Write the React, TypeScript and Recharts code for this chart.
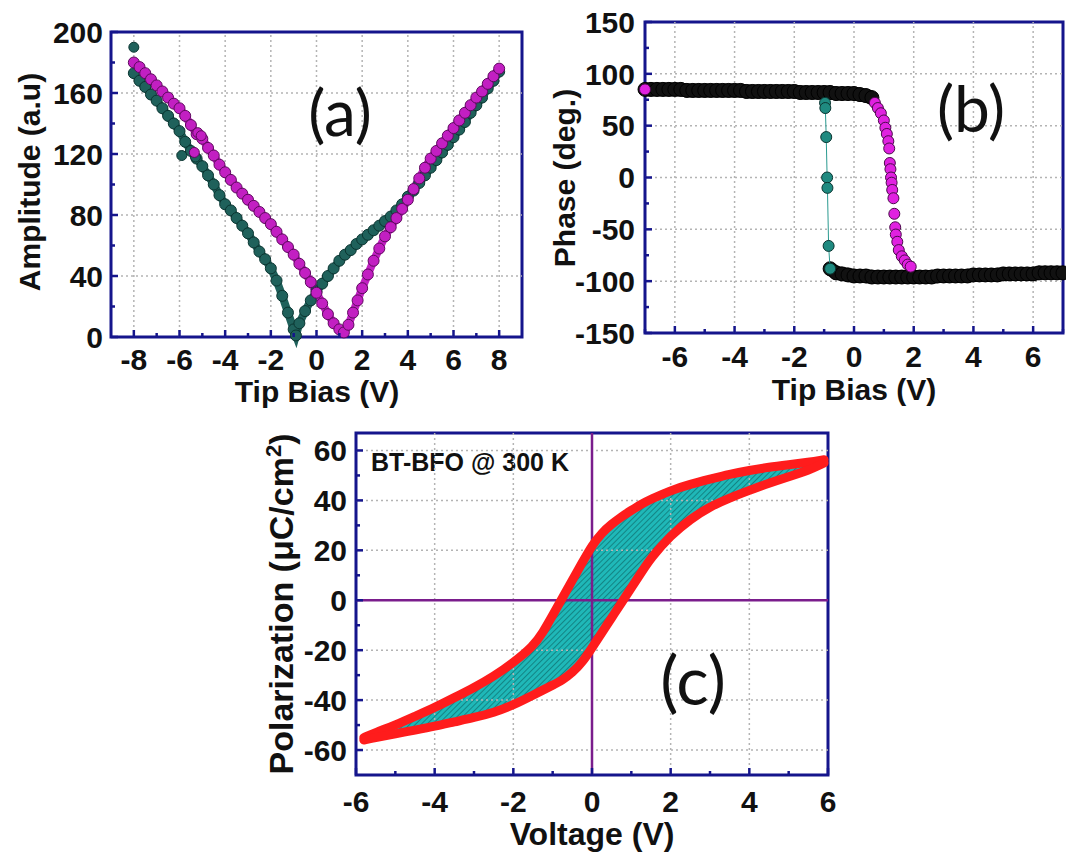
import React from "react";
import {
  ComposedChart,
  Scatter,
  Line,
  Area,
  XAxis,
  YAxis,
  ReferenceLine,
  ReferenceArea,
} from "recharts";

const NAVY = "#15158c";
const GRID = "#b4b4b4";
const PURPLE = "#7a1d8c";
const FONT = "'Liberation Sans', Arial, sans-serif";
const LETTER_FONT = "Lato, 'Open Sans', sans-serif";

// ---------- (a) amplitude vs tip bias ----------
const ampXTicks = [-8, -7, -6, -5, -4, -3, -2, -1, 0, 1, 2, 3, 4, 5, 6, 7, 8];
const ampXLabels = [-8, -6, -4, -2, 0, 2, 4, 6, 8];
const ampYTicks = [0, 20, 40, 60, 80, 100, 120, 140, 160, 180, 200];
const ampYLabels = [0, 40, 80, 120, 160, 200];

const ampTealV = [
  -8, -7.75, -7.5, -7.25, -7, -6.75, -6.5, -6.25, -6, -5.75, -5.5, -5.25, -5,
  -4.75, -4.5, -4.25, -4, -3.75, -3.5, -3.25, -3, -2.75, -2.5, -2.25, -2,
  -1.75, -1.5, -1.25, -1, -0.9, -0.75, -0.5, -0.25, 0, 0.25, 0.5, 0.75, 1,
  1.25, 1.5, 1.75, 2, 2.25, 2.5, 2.75, 3, 3.25, 3.5, 3.75, 4, 4.25, 4.5, 4.75,
  5, 5.25, 5.5, 5.75, 6, 6.25, 6.5, 6.75, 7, 7.25, 7.5, 7.75, 8,
];
const ampTealA = [
  173, 168, 164, 159, 155, 150, 145, 140, 135, 128, 122, 117, 112, 106, 100,
  93, 87, 83, 78, 73, 68, 62, 56, 51, 45, 37, 27, 16, 5, 1, 9, 17, 24, 30, 35,
  40, 45, 50, 54, 57, 61, 64, 67, 70, 73, 76, 79, 83, 87, 92, 96, 101, 106,
  111, 116, 121, 126, 131, 136, 141, 147, 152, 157, 163, 168, 174,
];
const ampTealExtraV = [-8, -5.9, -5.3];
const ampTealExtraA = [190, 119, 118];

const ampMagV = [
  -8, -7.75, -7.5, -7.25, -7, -6.75, -6.5, -6.25, -6, -5.75, -5.5, -5.25, -5,
  -4.75, -4.5, -4.25, -4, -3.75, -3.5, -3.25, -3, -2.75, -2.5, -2.25, -2,
  -1.75, -1.5, -1.25, -1, -0.75, -0.5, -0.25, 0, 0.25, 0.5, 0.75, 1, 1.2, 1.4,
  1.6, 1.8, 2, 2.25, 2.5, 2.75, 3, 3.25, 3.5, 3.75, 4, 4.25, 4.5, 4.75, 5,
  5.25, 5.5, 5.75, 6, 6.25, 6.5, 6.75, 7, 7.25, 7.5, 7.75, 8,
];
const ampMagA = [
  180, 177, 173, 169, 165, 161, 157, 153, 150, 145, 139, 133, 130, 124, 119,
  113, 108, 103, 98, 94, 90, 86, 82, 78, 74, 69, 64, 59, 54, 48, 42, 36, 29,
  22, 15, 9, 5, 3, 8, 16, 24, 32, 41, 50, 58, 66, 72, 78, 84, 90, 97, 104, 111,
  117, 122, 127, 132, 137, 142, 147, 152, 157, 161, 166, 171, 176,
];
const ampMagExtraV = [-5.35, -5.2, -5.05];
const ampMagExtraA = [121, 134, 132];

// ---------- (b) phase vs tip bias ----------
const phXTicks = [-7, -6, -5, -4, -3, -2, -1, 0, 1, 2, 3, 4, 5, 6, 7];
const phXLabels = [-6, -4, -2, 0, 2, 4, 6];
const phYTicks = [-150, -125, -100, -75, -50, -25, 0, 25, 50, 75, 100, 125, 150];
const phYLabels = [-150, -100, -50, 0, 50, 100, 150];

const phUpV = [
  -7, -6.8, -6.6, -6.4, -6.2, -6, -5.8, -5.6, -5.4, -5.2, -5, -4.8, -4.6, -4.4,
  -4.2, -4, -3.8, -3.6, -3.4, -3.2, -3, -2.8, -2.6, -2.4, -2.2, -2, -1.8, -1.6,
  -1.4, -1.2, -1, -0.8, -0.6, -0.4, -0.2, 0, 0.2, 0.4, 0.6,
];
const phUpP = [
  85, 85, 85, 85, 85, 85, 85, 84, 84, 84, 84, 84, 84, 84, 84, 84, 84, 83, 83,
  83, 83, 83, 83, 83, 83, 83, 82, 82, 82, 82, 82, 82, 81, 81, 81, 81, 80, 79,
  77,
];
const phLowV = [
  -0.8, -0.6, -0.4, -0.2, 0, 0.2, 0.4, 0.6, 0.8, 1, 1.2, 1.4, 1.6, 1.8, 2, 2.2,
  2.4, 2.6, 2.8, 3, 3.2, 3.4, 3.6, 3.8, 4, 4.2, 4.4, 4.6, 4.8, 5, 5.2, 5.4, 5.6,
  5.8, 6, 6.2, 6.4, 6.6, 6.8, 7,
];
const phLowP = [
  -88, -92, -93, -94, -95, -95, -95, -96, -96, -96, -96, -96, -96, -96, -96,
  -96, -96, -96, -95, -95, -95, -95, -95, -95, -94, -94, -94, -94, -94, -93,
  -93, -93, -93, -93, -93, -92, -92, -92, -92, -92,
];
const phMagV = [
  -7, 0.7, 0.8, 0.9, 1.0, 1.05, 1.1, 1.15, 1.18, 1.2, 1.22, 1.24, 1.26, 1.28,
  1.32, 1.35, 1.38, 1.4, 1.45, 1.5, 1.6, 1.7, 1.8, 1.9,
];
const phMagP = [
  85, 72, 67, 62, 55, 48, 42, 35, 28, 14, 8, 0, -5, -12, -20, -35, -48, -55,
  -62, -70, -76, -80, -84, -86,
];
const phTealV = [-0.97, -0.96, -0.93, -0.9, -0.89, -0.85, -0.8];
const phTealP = [72, 67, 39, 0, -10, -66, -88];

// ---------- (c) P-E loop ----------
const peXTicks = [-6, -5, -4, -3, -2, -1, 0, 1, 2, 3, 4, 5, 6];
const peXLabels = [-6, -4, -2, 0, 2, 4, 6];
const peYTicks = [-60, -50, -40, -30, -20, -10, 0, 10, 20, 30, 40, 50, 60];
const peYLabels = [-60, -40, -20, 0, 20, 40, 60];

const peV = [
  -5.8, -5.5, -5, -4.5, -4, -3.5, -3, -2.5, -2, -1.5, -1.25, -1, -0.75, -0.5,
  -0.25, 0, 0.25, 0.5, 0.75, 1, 1.25, 1.5, 2, 2.5, 3, 3.5, 4, 4.5, 5, 5.5, 5.9,
];
const peUpper = [
  -55, -53, -50, -46.5, -43, -39, -35, -30.5, -25, -18.5, -13, -6, 1, 8, 15,
  22, 27, 30.5, 33.5, 36, 38.5, 40.5, 44, 46.5, 48.5, 50.5, 52, 53.3, 54.3,
  55.3, 56.3,
];
const peLower = [
  -56, -55, -53.5, -52, -50.5, -48.7, -47, -45, -42, -38, -36, -34, -32, -29,
  -25, -19, -13, -7, -1, 5, 11, 17, 26, 32.5, 37.5, 41, 44, 47, 49.5, 52,
  55,
];

const zip = (xs: number[], ys: number[]) => xs.map((x, i) => ({ x, y: ys[i] }));

const tickText: React.CSSProperties = {
  fontFamily: FONT,
  fontWeight: 700,
  fontSize: 30,
  fill: "#111",
};

const xTick =
  (labels: number[], gap: number) =>
  (props: any) => {
    const { x, y, payload } = props;
    const major = labels.includes(payload.value);
    return (
      <g>
        <line x1={x} x2={x} y1={y} y2={y - (major ? 7 : 4)} stroke={NAVY} strokeWidth={2.5} />
        {major && (
          <text x={x} y={y + gap} dy="0.36em" textAnchor="middle" style={tickText}>
            {payload.value}
          </text>
        )}
      </g>
    );
  };

const yTick =
  (labels: number[], gap: number) =>
  (props: any) => {
    const { x, y, payload } = props;
    const major = labels.includes(payload.value);
    return (
      <g>
        <line x1={x} x2={x + (major ? 7 : 4)} y1={y} y2={y} stroke={NAVY} strokeWidth={2.5} />
        {major && (
          <text x={x - gap} y={y} dy="0.36em" textAnchor="end" style={tickText}>
            {payload.value}
          </text>
        )}
      </g>
    );
  };

const dot = (fill: string, stroke: string, r: number) => (props: any) =>
  <circle cx={props.cx} cy={props.cy} r={r} fill={fill} stroke={stroke} strokeWidth={1} />;

const gridV = (vals: number[]) =>
  vals.map((v) => (
    <ReferenceLine key={"gx" + v} x={v} stroke={GRID} strokeDasharray="2 3" strokeWidth={1.5} />
  ));
const gridH = (vals: number[]) =>
  vals.map((v) => (
    <ReferenceLine key={"gy" + v} y={v} stroke={GRID} strokeDasharray="2 3" strokeWidth={1.5} />
  ));

const title = (
  text: React.ReactNode,
  cx: number,
  cy: number,
  rotate: boolean,
  size = 30
): React.ReactElement => (
  <div
    style={{
      position: "absolute",
      left: cx,
      top: cy,
      transform: `translate(-50%, -50%)${rotate ? " rotate(-90deg)" : ""}`,
      whiteSpace: "nowrap",
      fontFamily: FONT,
      fontWeight: 700,
      fontSize: size,
      color: "#111",
      lineHeight: 1,
    }}
  >
    {text}
  </div>
);

const letter = (text: string, cx: number, cy: number, size = 64) => (
  <div
    style={{
      position: "absolute",
      left: cx,
      top: cy,
      transform: "translate(-50%, -50%)",
      fontFamily: LETTER_FONT,
      fontSize: size,
      color: "#111",
      lineHeight: 1,
    }}
  >
    {text}
  </div>
);

const AmplitudePanel = () => (
  <ComposedChart width={540} height={400} margin={{ top: 32, right: 18, bottom: 0, left: 0 }}>
    <XAxis
      type="number"
      dataKey="x"
      domain={[-9, 9]}
      ticks={ampXTicks}
      interval={0}
      height={63}
      axisLine={false}
      tickLine={false}
      tickSize={0}
      tickMargin={0}
      tick={xTick(ampXLabels, 22)}
    />
    <YAxis
      type="number"
      dataKey="y"
      domain={[0, 200]}
      ticks={ampYTicks}
      interval={0}
      width={111}
      axisLine={false}
      tickLine={false}
      tickSize={0}
      tickMargin={0}
      tick={yTick(ampYLabels, 8)}
    />
    {gridV(ampXLabels)}
    {gridH([40, 80, 120, 160])}
    <ReferenceArea x1={-9} x2={9} y1={0} y2={200} fill="none" stroke={NAVY} strokeWidth={3} />
    <Line data={zip(ampTealV, ampTealA)} dataKey="y" stroke="#1f615b" strokeWidth={8} dot={false} isAnimationActive={false} />
    <Line data={zip(ampMagV, ampMagA)} dataKey="y" stroke="#c21fc2" strokeWidth={8} dot={false} isAnimationActive={false} />
    <Scatter data={zip(ampTealV, ampTealA)} shape={dot("#1f615b", "#0b3531", 5.5)} isAnimationActive={false} />
    <Scatter data={zip(ampTealExtraV, ampTealExtraA)} shape={dot("#1f615b", "#0b3531", 5)} isAnimationActive={false} />
    <Scatter data={zip(ampMagV, ampMagA)} shape={dot("#c21fc2", "#5e0a5e", 5.5)} isAnimationActive={false} />
    <Scatter data={zip(ampMagExtraV, ampMagExtraA)} shape={dot("#c21fc2", "#5e0a5e", 5)} isAnimationActive={false} />
  </ComposedChart>
);

const PhasePanel = () => (
  <ComposedChart width={526} height={400} margin={{ top: 22, right: 3, bottom: 0, left: 0 }}>
    <XAxis
      type="number"
      dataKey="x"
      domain={[-7, 7]}
      ticks={phXTicks}
      interval={0}
      height={67}
      axisLine={false}
      tickLine={false}
      tickSize={0}
      tickMargin={0}
      tick={xTick(phXLabels, 23)}
    />
    <YAxis
      type="number"
      dataKey="y"
      domain={[-150, 150]}
      ticks={phYTicks}
      interval={0}
      width={105}
      axisLine={false}
      tickLine={false}
      tickSize={0}
      tickMargin={0}
      tick={yTick(phYLabels, 10)}
    />
    {gridV(phXLabels)}
    {gridH([-100, -50, 0, 50, 100])}
    <ReferenceArea x1={-7} x2={7} y1={-150} y2={150} fill="none" stroke={NAVY} strokeWidth={3} />
    <Line data={zip(phUpV, phUpP)} dataKey="y" stroke="#111" strokeWidth={14} dot={false} isAnimationActive={false} />
    <Line data={zip(phLowV, phLowP)} dataKey="y" stroke="#111" strokeWidth={14} dot={false} isAnimationActive={false} />
    <Scatter data={zip(phUpV, phUpP)} shape={dot("#111", "#000", 7)} isAnimationActive={false} />
    <Scatter data={zip(phLowV, phLowP)} shape={dot("#111", "#000", 7)} isAnimationActive={false} />
    <Scatter data={zip(phMagV, phMagP)} shape={dot("#e021e0", "#4a0a4a", 5.5)} isAnimationActive={false} />
    <Scatter
      data={zip(phTealV, phTealP)}
      shape={dot("#1f8a80", "#0b3531", 5.5)}
      line={{ stroke: "#2a9a90", strokeWidth: 1 }}
      isAnimationActive={false}
    />
  </ComposedChart>
);

const loopRows = peV.map((v, i) => ({ v, up: peUpper[i], lo: peLower[i] }));

const LoopPanel = () => (
  <ComposedChart
    width={620}
    height={454}
    data={loopRows}
    margin={{ top: 33, right: 22, bottom: 0, left: 0 }}
  >
    <defs>
      <pattern id="hatch" width="4" height="4" patternUnits="userSpaceOnUse" patternTransform="rotate(45)">
        <rect width="4" height="4" fill="#1fb8b8" />
        <line x1="0" y1="0" x2="0" y2="4" stroke="#0c6868" strokeWidth="1.3" />
      </pattern>
    </defs>
    <XAxis
      type="number"
      dataKey="v"
      domain={[-6, 6]}
      ticks={peXTicks}
      interval={0}
      height={79}
      axisLine={false}
      tickLine={false}
      tickSize={0}
      tickMargin={0}
      tick={xTick(peXLabels, 26)}
    />
    <YAxis
      type="number"
      domain={[-70, 67]}
      ticks={peYTicks}
      interval={0}
      width={126}
      axisLine={false}
      tickLine={false}
      tickSize={0}
      tickMargin={0}
      tick={yTick(peYLabels, 9)}
    />
    {gridV([-4, -2, 2, 4])}
    {gridH([-60, -40, -20, 20, 40, 60])}
    <ReferenceArea x1={-6} x2={6} y1={-70} y2={67} fill="none" stroke={NAVY} strokeWidth={3} />
    <Area
      type="basis"
      dataKey={(d: any) => [d.lo, d.up]}
      fill="url(#hatch)"
      fillOpacity={1}
      stroke="none"
      isAnimationActive={false}
    />
    <ReferenceLine x={0} stroke={PURPLE} strokeWidth={2.5} />
    <ReferenceLine y={0} stroke={PURPLE} strokeWidth={2.5} />
    <Line type="basis" dataKey="up" stroke="#ff1c1c" strokeWidth={9} strokeLinecap="round" dot={false} isAnimationActive={false} />
    <Line type="basis" dataKey="lo" stroke="#ff1c1c" strokeWidth={9} strokeLinecap="round" dot={false} isAnimationActive={false} />
    <text x={141} y={71} style={{ fontFamily: FONT, fontWeight: 700, fontSize: 25, fill: "#111" }}>
      BT-BFO @ 300 K
    </text>
  </ComposedChart>
);

export default function App() {
  return (
    <div
      style={{
        position: "absolute",
        left: 0,
        top: 0,
        width: 1066,
        height: 854,
        background: "#fff",
        overflow: "hidden",
      }}
    >
      <div style={{ position: "absolute", left: 0, top: 0 }}>
        <AmplitudePanel />
      </div>
      <div style={{ position: "absolute", left: 540, top: 0 }}>
        <PhasePanel />
      </div>
      <div style={{ position: "absolute", left: 230, top: 400 }}>
        <LoopPanel />
      </div>
      {title("Amplitude (a.u)", 30, 182, true)}
      {title("Tip Bias (V)", 317, 392, false)}
      {title("Phase (deg.)", 565, 178, true)}
      {title("Tip Bias (V)", 854, 390, false)}
      {title(
        <span>
          Polarization (μC/cm<sup style={{ fontSize: "0.65em" }}>2</sup>)
        </span>,
        281,
        604,
        true,
        34
      )}
      {title("Voltage (V)", 592, 834, false, 32)}
      {letter("(a)", 340, 112)}
      {letter("(b)", 971, 108)}
      {letter("(c)", 693, 679, 68)}
    </div>
  );
}
